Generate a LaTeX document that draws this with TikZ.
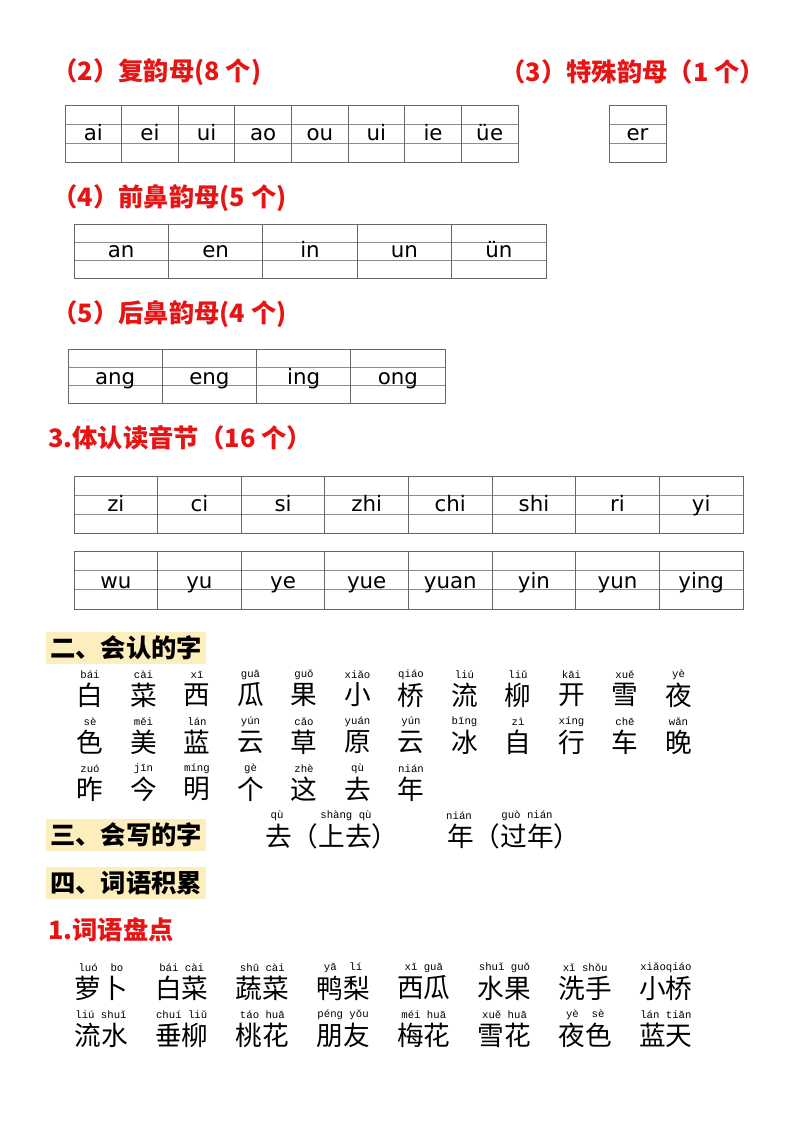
\documentclass[tikz,border=0pt]{standalone}
\usepackage{fontspec}
\setmainfont{DejaVu Sans}
\newfontfamily\cjk{Noto Sans CJK SC}
\newfontfamily\py{Liberation Mono}
\definecolor{hred}{RGB}{230,20,20}
\definecolor{hyel}{RGB}{253,238,190}
\begin{document}
\begin{tikzpicture}[x=0.75pt,y=-0.75pt,
  redh/.style={anchor=west,text=hred,font=\cjk\bfseries\fontsize{19}{21}\selectfont,inner sep=0},
  blkh/.style={anchor=west,fill=hyel,font=\cjk\bfseries\fontsize{19}{21}\selectfont,inner sep=3pt},
  grid/.style={draw=black!60,line width=0.6pt},
  thin/.style={draw=black!45,line width=0.4pt},
  lat/.style={anchor=base,font=\fontsize{16}{18}\selectfont,inner sep=0},
  han/.style={font=\cjk\fontsize{20}{21}\selectfont,inner sep=0},
  pin/.style={font=\py\fontsize{8}{9}\selectfont,inner sep=0}]
\useasboundingbox (0,0) rectangle (800,1132);
\newcommand\pytab[7]{% x0 y0 x1 y1 ncols baseline list
  \pgfmathsetmacro\cw{(#3-#1)/#5}
  \pgfmathsetmacro\hh{(#4-#2)/3}
  \draw[thin] (#1,#2+\hh) -- (#3,#2+\hh) (#1,#2+2*\hh) -- (#3,#2+2*\hh);
  \draw[grid] (#1,#2) rectangle (#3,#4);
  \foreach \t [count=\i] in {#7}{
    \pgfmathsetmacro\xl{#1+(\i-1)*\cw}
    \pgfmathsetmacro\xc{#1+(\i-0.5)*\cw}
    \ifnum\i>1 \draw[grid] (\xl,#2) -- (\xl,#4);\fi
    \node[lat] at (\xc,#6) {\t};
  }}
\node[redh] (h2) at (52,72) {（2）复韵母(8 个)};
\node[redh] (h3) at (500,72) {（3）特殊韵母（1 个）};
\pytab{65}{105}{518}{162}{8}{140}{ai,ei,ui,ao,ou,ui,ie,ü\kern0.5pt e}
\pytab{609}{105}{666}{162}{1}{140}{er}
\node[redh] (h4) at (52,198) {（4）前鼻韵母(5 个)};
\pytab{74}{224}{546}{278}{5}{257}{an,en,in,un,ün}
\node[redh] (h5) at (52,314) {（5）后鼻韵母(4 个)};
\pytab{68}{349}{445}{403}{4}{384}{ang,eng,ing,ong}
\node[redh] (h6) at (48,438) {3.体认读音节（16 个）};
\pytab{74}{476}{743}{533}{8}{511}{zi,ci,si,zhi,chi,shi,ri,yi}
\pytab{74}{551}{743}{609}{8}{588}{wu,yu,ye,yue,yuan,yin,yun,ying}
\node[blkh] (s2) at (46,648) {二、会认的字};
\foreach \p/\c [count=\i] in {bái/白,cài/菜,xī/西,guā/瓜,guǒ/果,xiǎo/小,qiáo/桥,liú/流,liǔ/柳,kāi/开,xuě/雪,yè/夜}{
  \node[pin] (pa\i) at ({90+(\i-1)*53.5},675) {\p};
  \node[han] (ca\i) at ({90+(\i-1)*53.5},695) {\c};}
\foreach \p/\c [count=\i] in {sè/色,měi/美,lán/蓝,yún/云,cǎo/草,yuán/原,yún/云,bīng/冰,zì/自,xíng/行,chē/车,wǎn/晚}{
  \node[pin] (pb\i) at ({90+(\i-1)*53.5},722) {\p};
  \node[han] (cb\i) at ({90+(\i-1)*53.5},742) {\c};}
\foreach \p/\c [count=\i] in {zuó/昨,jīn/今,míng/明,gè/个,zhè/这,qù/去,nián/年}{
  \node[pin] (pc\i) at ({90+(\i-1)*53.5},769) {\p};
  \node[han] (cc\i) at ({90+(\i-1)*53.5},789) {\c};}
\node[blkh] (s3) at (46,835) {三、会写的字};
\node[han,anchor=west] (w1) at (265,836) {去（上去）};
\node[pin] (wp1) at (277,816) {qù};
\node[pin] (wp2) at (346,816) {shàng qù};
\node[han,anchor=west] (w2) at (447,836) {年（过年）};
\node[pin] (wp3) at (459,816) {nián};
\node[pin] (wp4) at (527,816) {guò nián};
\node[blkh] (s4) at (46,883) {四、词语积累};
\node[redh] (h7) at (48,930) {1.词语盘点};
\foreach \p/\c [count=\i] in {luó\ \ bo/萝卜,bái cài/白菜,shū cài/蔬菜,yā\ \ lí/鸭梨,xī\ guā/西瓜,shuǐ guǒ/水果,xǐ shǒu/洗手,xiǎoqiáo/小桥}{
  \node[pin] (qa\i) at ({101+(\i-1)*80.7},968) {\p};
  \node[han] (wa\i) at ({101+(\i-1)*80.7},988) {\c};}
\foreach \p/\c [count=\i] in {liú shuǐ/流水,chuí liǔ/垂柳,táo huā/桃花,péng yǒu/朋友,méi huā/梅花,xuě huā/雪花,yè\ \ sè/夜色,lán tiān/蓝天}{
  \node[pin] (qb\i) at ({101+(\i-1)*80.7},1015) {\p};
  \node[han] (wb\i) at ({101+(\i-1)*80.7},1035) {\c};}
\end{tikzpicture}
\end{document}
